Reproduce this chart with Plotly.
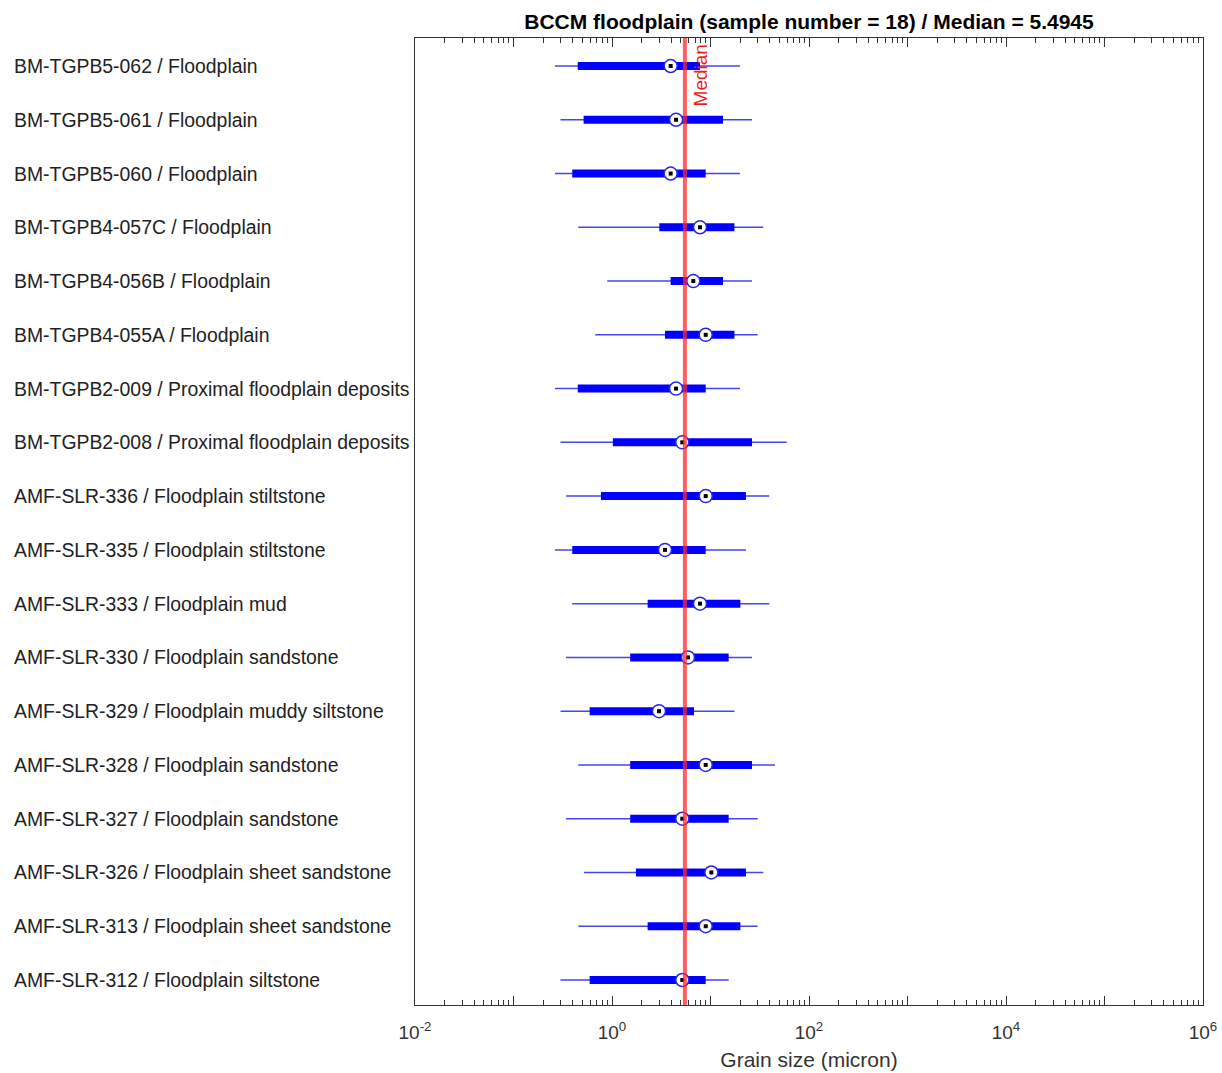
import plotly.graph_objects as go

labels = [
    "BM-TGPB5-062 / Floodplain",
    "BM-TGPB5-061 / Floodplain",
    "BM-TGPB5-060 / Floodplain",
    "BM-TGPB4-057C / Floodplain",
    "BM-TGPB4-056B / Floodplain",
    "BM-TGPB4-055A / Floodplain",
    "BM-TGPB2-009 / Proximal floodplain deposits",
    "BM-TGPB2-008 / Proximal floodplain deposits",
    "AMF-SLR-336 / Floodplain stiltstone",
    "AMF-SLR-335 / Floodplain stiltstone",
    "AMF-SLR-333 / Floodplain mud",
    "AMF-SLR-330 / Floodplain sandstone",
    "AMF-SLR-329 / Floodplain muddy siltstone",
    "AMF-SLR-328 / Floodplain sandstone",
    "AMF-SLR-327 / Floodplain sandstone",
    "AMF-SLR-326 / Floodplain sheet sandstone",
    "AMF-SLR-313 / Floodplain sheet sandstone",
    "AMF-SLR-312 / Floodplain siltstone",
]
whisker_low = [0.264, 0.30, 0.264, 0.455, 0.896, 0.677, 0.264, 0.30, 0.341,
               0.264, 0.395, 0.341, 0.30, 0.455, 0.341, 0.520, 0.455, 0.30]
box_low = [0.449, 0.515, 0.395, 3.02, 3.94, 3.45, 0.449, 1.02, 0.773,
           0.395, 2.30, 1.53, 0.593, 1.53, 1.53, 1.75, 2.30, 0.593]
center = [3.94, 4.47, 3.94, 7.82, 6.69, 8.94, 4.47, 5.17, 8.94,
          3.45, 7.82, 5.91, 3.00, 8.94, 5.17, 10.2, 8.94, 5.17]
box_high = [7.82, 13.4, 8.94, 17.5, 13.4, 17.5, 8.94, 26.4, 22.9,
            8.94, 20.1, 15.3, 6.80, 26.4, 15.3, 22.9, 20.1, 8.94]
whisker_high = [19.9, 26.4, 19.9, 34.4, 26.4, 30.1, 19.9, 59.4, 39.5,
                22.9, 39.5, 26.4, 17.5, 45.2, 30.1, 34.4, 30.1, 15.3]
median_value = 5.4945
title = "BCCM floodplain (sample number = 18) / Median = 5.4945"
x_tick_vals = [1e-2, 1e-1, 1e0, 1e1, 1e2, 1e3, 1e4, 1e5, 1e6]
x_tick_text = ["10<sup>-2</sup>", "", "10<sup>0</sup>", "", "10<sup>2</sup>", "",
               "10<sup>4</sup>", "", "10<sup>6</sup>"]

n = len(labels)
ypos = [n - 1 - k for k in range(n)]

FONT = "Liberation Sans, Arial, sans-serif"

fig = go.Figure()

wx, wy, bx, by = [], [], [], []
for k in range(n):
    wx += [whisker_low[k], whisker_high[k], None]
    wy += [ypos[k], ypos[k], None]
    bx += [box_low[k], box_high[k], None]
    by += [ypos[k], ypos[k], None]

fig.add_trace(go.Scatter(x=wx, y=wy, mode="lines",
                         line=dict(color="rgb(70,70,235)", width=1.5),
                         hoverinfo="skip", showlegend=False))
fig.add_trace(go.Scatter(x=bx, y=by, mode="lines",
                         line=dict(color="rgb(0,0,255)", width=8),
                         hoverinfo="skip", showlegend=False))
fig.add_trace(go.Scatter(x=center, y=ypos, mode="markers",
                         marker=dict(symbol="circle", size=13, color="white",
                                     line=dict(color="rgb(40,40,230)", width=1.5)),
                         showlegend=False))
fig.add_trace(go.Scatter(x=center, y=ypos, mode="markers",
                         marker=dict(symbol="square", size=4, color="black"),
                         hoverinfo="skip", showlegend=False))

fig.add_shape(type="line", xref="x", yref="paper", x0=median_value, x1=median_value,
              y0=0, y1=1, line=dict(color="rgba(255,40,40,0.75)", width=4))

fig.add_annotation(x=0.7399, y=1, xref="x", yref="paper", text="Median",
                   textangle=-90, showarrow=False, xanchor="left", yanchor="top",
                   xshift=3, yshift=-4,
                   font=dict(family=FONT, size=19, color="rgb(235,30,30)"))

for k in range(n):
    fig.add_annotation(x=-0.5115, xref="paper", y=ypos[k], yref="y",
                       text=labels[k], showarrow=False, xanchor="left",
                       yanchor="middle",
                       font=dict(family=FONT, size=19.4, color="#222"))

minor_vals = []
for d in range(-2, 6):
    for m in range(2, 10):
        minor_vals.append(m * 10 ** d)

W, H = 1222, 1073
fig.update_layout(
    width=W, height=H,
    margin=dict(l=415, r=19, t=38, b=68, autoexpand=False),
    paper_bgcolor="white", plot_bgcolor="white",
    title=dict(text="<b>" + title + "</b>", x=809 / W, xanchor="center",
               y=1 - 22 / H, yanchor="middle",
               font=dict(family=FONT, size=21, color="black")),
    font=dict(family=FONT, size=18, color="#333"),
    xaxis=dict(type="log", range=[-2, 6], tickmode="array",
               tickvals=x_tick_vals, ticktext=x_tick_text, automargin=False,
               ticks="inside", ticklen=9, tickwidth=1, tickcolor="#333",
               minor=dict(tickmode="array", tickvals=minor_vals, ticks="inside",
                          ticklen=5, tickwidth=1, tickcolor="#333"),
               showline=True, linecolor="#333", linewidth=1, mirror="ticks",
               showgrid=False, zeroline=False, ticklabelstandoff=10,
               ticklabeloverflow="allow",
               tickfont=dict(family=FONT, size=19, color="#333"),
               title=dict(text="Grain size (micron)", standoff=10,
                          font=dict(family=FONT, size=21, color="#333"))),
    yaxis=dict(range=[-0.465, n - 1 + 0.521], showticklabels=False, ticks="",
               automargin=False,
               showline=True, linecolor="#333", linewidth=1, mirror=True,
               showgrid=False, zeroline=False),
)

fig.write_html("out.html", config={"displayModeBar": False},
               post_script="document.body.style.margin='0';document.body.style.overflow='hidden';")
